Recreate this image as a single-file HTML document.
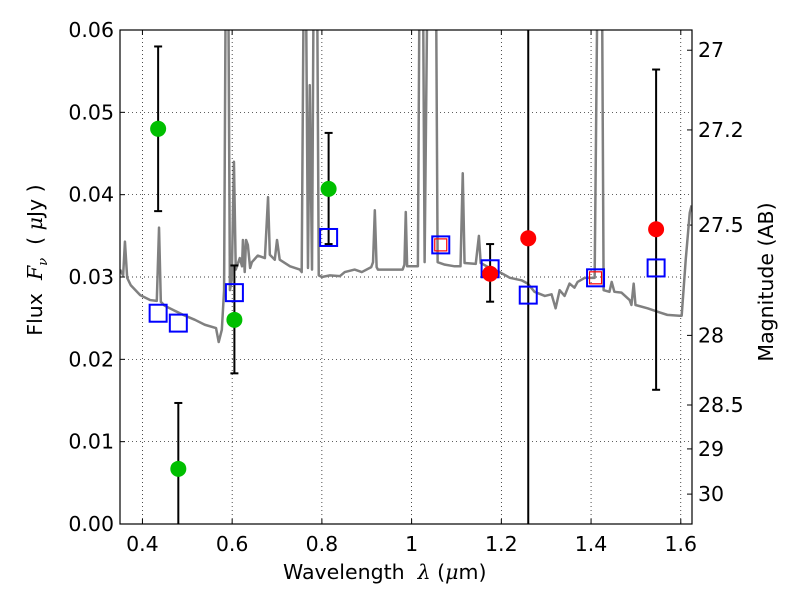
<!DOCTYPE html>
<html><head><meta charset="utf-8"><style>
body{margin:0;background:#fff}
svg{display:block;font-family:"DejaVu Sans","Liberation Sans",sans-serif}
</style></head><body>
<svg id="c" width="800" height="600"></svg>
<script>
const specLam=[0.350,0.357,0.361,0.366,0.374,0.395,0.417,0.432,0.437,0.441,0.450,0.472,0.495,0.517,0.539,0.564,0.570,0.577,0.582,0.586,0.591,0.595,0.599,0.604,0.608,0.617,0.622,0.624,0.628,0.631,0.635,0.640,0.644,0.657,0.673,0.680,0.684,0.695,0.700,0.706,0.729,0.751,0.755,0.760,0.764,0.769,0.773,0.778,0.782,0.789,0.793,0.800,0.818,0.840,0.851,0.873,0.889,0.910,0.914,0.918,0.922,0.925,0.951,0.980,0.984,0.987,0.990,1.014,1.018,1.025,1.029,1.036,1.043,1.054,1.058,1.074,1.096,1.109,1.114,1.118,1.143,1.150,1.154,1.174,1.196,1.219,1.245,1.259,1.274,1.297,1.312,1.321,1.330,1.341,1.352,1.363,1.370,1.386,1.408,1.415,1.424,1.428,1.441,1.446,1.452,1.468,1.486,1.490,1.495,1.499,1.526,1.553,1.570,1.597,1.602,1.611,1.620,1.624];
const specFlux=[0.0309,0.0302,0.0343,0.0299,0.0290,0.0278,0.0272,0.0271,0.0360,0.0270,0.0265,0.0259,0.0253,0.0248,0.0242,0.0238,0.0221,0.0236,0.0284,0.07,0.07,0.0284,0.0296,0.0440,0.0309,0.0323,0.0313,0.0345,0.0306,0.0345,0.0339,0.0311,0.0318,0.0326,0.0323,0.0397,0.0327,0.0321,0.0345,0.0321,0.0313,0.0309,0.0306,0.07,0.07,0.0311,0.0533,0.0309,0.07,0.07,0.0302,0.0300,0.0302,0.0301,0.0306,0.0309,0.0306,0.0312,0.0318,0.0381,0.0312,0.0309,0.0309,0.0309,0.0315,0.0379,0.0313,0.0313,0.07,0.07,0.0318,0.07,0.07,0.07,0.0318,0.0315,0.0313,0.0313,0.0426,0.0317,0.0316,0.0350,0.0317,0.0311,0.0306,0.0299,0.0296,0.0292,0.0282,0.0277,0.0279,0.0262,0.0284,0.0277,0.0292,0.0287,0.0294,0.0299,0.0299,0.07,0.07,0.0284,0.0282,0.0294,0.0282,0.0281,0.0272,0.0266,0.0292,0.0266,0.0262,0.0257,0.0254,0.0253,0.0253,0.0321,0.0378,0.0387];
const greenLam=[0.435,0.48,0.605,0.815];
const greenFlux=[0.048,0.0067,0.0248,0.0407];
const greenLo=[0.038,-0.002,0.0183,0.0340];
const greenHi=[0.058,0.0147,0.0314,0.0475];
const redLam=[1.175,1.26,1.545];
const redFlux=[0.0304,0.0347,0.0358];
const redLo=[0.027,-0.01,0.0163];
const redHi=[0.034,0.08,0.0552];
const modelLam=[0.435,0.48,0.605,0.815,1.065,1.175,1.26,1.41,1.545];
const modelFlux=[0.0256,0.0244,0.0281,0.0348,0.0339,0.031,0.0278,0.0299,0.0311];
const redSqLam=[1.065,1.41];
const redSqFlux=[0.0339,0.0299];
const xTicks=[0.4,0.6,0.8,1.0,1.2,1.4,1.6];
const xTickLabels=["0.4","0.6","0.8","1","1.2","1.4","1.6"];
const yTicks=[0,0.01,0.02,0.03,0.04,0.05,0.06];
const yTickLabels=["0.00","0.01","0.02","0.03","0.04","0.05","0.06"];
const magTicks=[27,27.2,27.5,28,28.5,29,30];
const magTickLabels=["27","27.2","27.5","28","28.5","29","30"];

const L=120,R=692,T=30,B=524,X0=0.35,X1=1.625,Y0=0,Y1=0.06;
const sx=v=>L+(v-X0)/(X1-X0)*(R-L);
const sy=v=>B-(v-Y0)/(Y1-Y0)*(B-T);
const svg=document.getElementById('c');
const NS='http://www.w3.org/2000/svg';
function mk(t,a,p){const e=document.createElementNS(NS,t);for(const k in a)e.setAttribute(k,a[k]);(p||svg).appendChild(e);return e;}
const defs=mk('defs',{});const cp=mk('clipPath',{id:'pc'},defs);mk('rect',{x:L,y:T,width:R-L,height:B-T},cp);

xTicks.forEach((v,i)=>{
 const g=mk('line',{x1:sx(v),x2:sx(v),y1:T,y2:B,stroke:'#000','stroke-width':0.7,'stroke-dasharray':'1,3'});
 
 
 mk('line',{x1:sx(v),x2:sx(v),y1:B,y2:B-5,stroke:'#000'});
 mk('line',{x1:sx(v),x2:sx(v),y1:T,y2:T+5,stroke:'#000'});
 const t=mk('text',{x:sx(v),y:B+27,'text-anchor':'middle','font-size':20.5});t.textContent=xTickLabels[i];
 
 
});
yTicks.forEach((v,i)=>{
 if(v>0&&v<0.06){const g=mk('line',{x1:L,x2:R,y1:sy(v),y2:sy(v),stroke:'#000','stroke-width':0.7,'stroke-dasharray':'1,3'});
 
 }
 mk('line',{x1:L,x2:L+5,y1:sy(v),y2:sy(v),stroke:'#000'});
 const t=mk('text',{x:L-6,y:sy(v)+7,'text-anchor':'end','font-size':20.5});t.textContent=yTickLabels[i];
 
 
});
magTicks.forEach((m,i)=>{
 const f=Math.pow(10,(23.9-m)/2.5);const y=sy(f);
 mk('line',{x1:R,x2:R-5,y1:y,y2:y,stroke:'#000'});
 const t=mk('text',{x:R+6,y:y+7,'font-size':20.5});t.textContent=magTickLabels[i];
 
 
});

const pg=mk('g',{'clip-path':'url(#pc)'});
const sp=mk('polyline',{points:specLam.map((l,i)=>sx(l)+','+sy(specFlux[i])).join(' '),fill:'none',stroke:'#808080','stroke-width':2.5,'stroke-linejoin':'round'},pg);



function errbar(l,lo,hi){
 const x=sx(l);
 mk('line',{x1:x,x2:x,y1:sy(lo),y2:sy(hi),stroke:'#000','stroke-width':2},pg);
 [lo,hi].forEach(v=>mk('line',{x1:x-4,x2:x+4,y1:sy(v),y2:sy(v),stroke:'#000','stroke-width':2},pg));
}
greenLam.forEach((l,i)=>errbar(l,greenLo[i],greenHi[i]));
redLam.forEach((l,i)=>errbar(l,redLo[i],redHi[i]));
modelLam.forEach((l,i)=>{
 const r=mk('rect',{x:sx(l)-8.5,y:sy(modelFlux[i])-8.5,width:17,height:17,fill:'none',stroke:'#0000ff','stroke-width':2},pg);
 
 
});
redSqLam.forEach((l,i)=>{
 const r=mk('rect',{x:sx(l)-6,y:sy(redSqFlux[i])-6,width:12,height:12,fill:'none',stroke:'#ff0000','stroke-width':1.2},pg);
 
 
});
greenLam.forEach((l,i)=>{
 const c=mk('circle',{cx:sx(l),cy:sy(greenFlux[i]),r:8,fill:'#00bf00'},pg);
 
 
});
redLam.forEach((l,i)=>{
 const c=mk('circle',{cx:sx(l),cy:sy(redFlux[i]),r:8,fill:'#ff0000'},pg);
 
 
});
const fr=mk('rect',{x:L,y:T,width:R-L,height:B-T,fill:'none',stroke:'#000','stroke-width':1.2});


</script>
<div style="position:absolute;left:0;top:0;width:800px;height:600px;pointer-events:none;font-family:'DejaVu Sans','Liberation Sans',sans-serif">
<div style="position:absolute;left:283px;top:560px;font-size:20.5px">Wavelength&nbsp; <i style="font-family:'DejaVu Serif',serif">λ</i> (<i style="font-family:'DejaVu Serif',serif">μ</i>m)</div>
<div style="position:absolute;left:37px;top:260px;font-size:20.5px;white-space:nowrap;transform:translate(-50%,-50%) rotate(-90deg)">Flux&nbsp; <i style="font-family:'DejaVu Serif',serif">F<sub style="font-size:13px">ν</sub></i>&nbsp; ( <i style="font-family:'DejaVu Serif',serif">μ</i>Jy )</div>
<div style="position:absolute;left:766px;top:282px;font-size:20.5px;white-space:nowrap;transform:translate(-50%,-50%) rotate(-90deg)">Magnitude (AB)</div>
</div>
</body></html>
